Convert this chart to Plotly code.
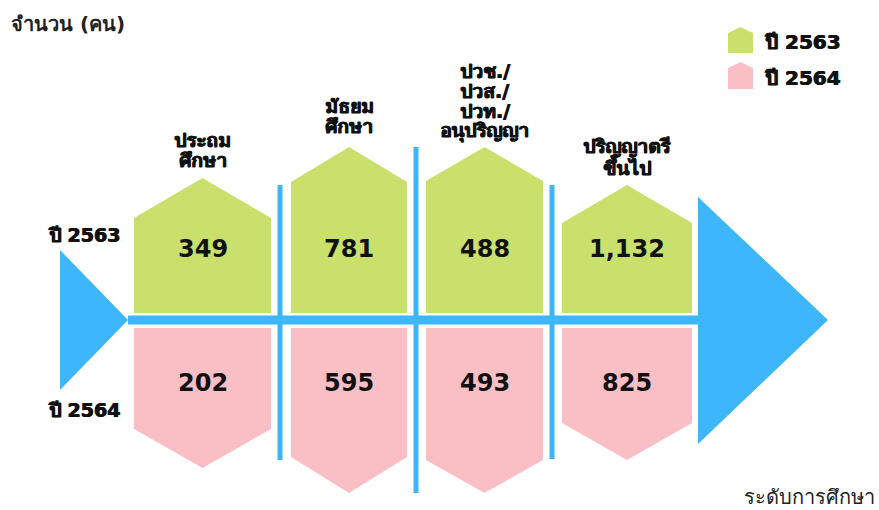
import plotly.graph_objects as go

# ---------------- data ----------------
categories = ["ประถม<br>ศึกษา", "มัธยม<br>ศึกษา",
              "ปวช./<br>ปวส./<br>ปวท./<br>อนุปริญญา", "ปริญญาตรี<br>ขึ้นไป"]
series_names = ["ปี 2563", "ปี 2564"]
values_2563 = [349, 781, 488, 1132]
values_2564 = [202, 595, 493, 825]
y_title = "จำนวน (คน)"
x_title = "ระดับการศึกษา"

# ---------------- layout / style constants (schematic infographic geometry) ----------------
W, H = 879, 510
GREEN = "#C9E16C"
PINK = "#FABFC5"
BLUE = "#3EB6FC"
FONT = "DejaVu Sans, Noto Sans, sans-serif"
TXT = "#111111"
THICK = "0.5px 0 0 #111111, -0.5px 0 0 #111111"

col_left = [134, 291, 426, 562]
col_right = [271, 407, 543, 692]
green_shoulder = [218, 182, 181, 223]
green_apex = [178, 147, 147, 185]
pink_shoulder = [429, 457, 460, 423]
pink_apex = [468, 493, 493, 460]
green_base, pink_base = 313, 328
spine_y = 320
green_val_y, pink_val_y = 249, 383
label_center_y = [150, 116, 101, 156]
label_line_gap = 20
sep_x = [280, 416, 552]
sep_top = [185, 147, 185]
sep_bottom = [460, 493, 459]
tail = dict(x0=60, x1=128, top=250, bottom=390)
head = dict(x0=698, x1=828, top=197, bottom=444)

fig = go.Figure()

def house(xl, xr, base, shoulder, apex):
    xc = (xl + xr) / 2
    return [xl, xl, xc, xr, xr, xl], [base, shoulder, apex, shoulder, base, base]

# houses
for i, cat in enumerate(categories):
    xs, ys = house(col_left[i], col_right[i], green_base, green_shoulder[i], green_apex[i])
    fig.add_trace(go.Scatter(x=xs, y=ys, fill="toself", fillcolor=GREEN, mode="lines",
                             line=dict(width=0, color=GREEN), name=series_names[0],
                             showlegend=False, hoverinfo="skip"))
    xs, ys = house(col_left[i], col_right[i], pink_base, pink_shoulder[i], pink_apex[i])
    fig.add_trace(go.Scatter(x=xs, y=ys, fill="toself", fillcolor=PINK, mode="lines",
                             line=dict(width=0, color=PINK), name=series_names[1],
                             showlegend=False, hoverinfo="skip"))

# fish-bone spine, tail and head
fig.add_shape(type="line", x0=tail["x1"], x1=head["x0"], y0=spine_y, y1=spine_y,
              line=dict(color=BLUE, width=9), layer="above")
fig.add_trace(go.Scatter(x=[tail["x0"], tail["x0"], tail["x1"], tail["x0"]],
                         y=[tail["top"], tail["bottom"], spine_y, tail["top"]],
                         fill="toself", fillcolor=BLUE, mode="lines",
                         line=dict(width=0, color=BLUE), showlegend=False, hoverinfo="skip"))
fig.add_trace(go.Scatter(x=[head["x0"], head["x0"], head["x1"], head["x0"]],
                         y=[head["top"], head["bottom"], spine_y, head["top"]],
                         fill="toself", fillcolor=BLUE, mode="lines",
                         line=dict(width=0, color=BLUE), showlegend=False, hoverinfo="skip"))
for x, t, b in zip(sep_x, sep_top, sep_bottom):
    fig.add_shape(type="line", x0=x, x1=x, y0=t, y1=b, line=dict(color=BLUE, width=5))

# values
for i in range(len(categories)):
    xc = (col_left[i] + col_right[i]) / 2
    fig.add_annotation(x=xc, y=green_val_y, text=f"{values_2563[i]:,}", showarrow=False,
                       font=dict(family=FONT, size=24, color=TXT, weight="bold"))
    fig.add_annotation(x=xc, y=pink_val_y, text=f"{values_2564[i]:,}", showarrow=False,
                       font=dict(family=FONT, size=24, color=TXT, weight="bold"))
    lines = categories[i].split("<br>")
    n = len(lines)
    for k, ln in enumerate(lines):
        y = label_center_y[i] + (k - (n - 1) / 2) * label_line_gap
        fig.add_annotation(x=xc, y=y, text=ln, showarrow=False,
                           font=dict(family=FONT, size=19, color=TXT, weight="bold",
                                     shadow=THICK))

# row labels
fig.add_annotation(x=84, y=235, text=series_names[0], showarrow=False,
                   font=dict(family=FONT, size=19, color=TXT, weight="bold", shadow=THICK))
fig.add_annotation(x=84, y=410, text=series_names[1], showarrow=False,
                   font=dict(family=FONT, size=19, color=TXT, weight="bold", shadow=THICK))

# legend (manual, house icons)
leg = [(GREEN, 27, 33, 53, 42, series_names[0]), (PINK, 62, 68, 89, 78, series_names[1])]
for col, apex, sh, base, ty, nm in leg:
    xs, ys = house(728, 753, base, sh, apex)
    fig.add_trace(go.Scatter(x=xs, y=ys, fill="toself", fillcolor=col, mode="lines",
                             line=dict(width=0, color=col), showlegend=False, hoverinfo="skip"))
    fig.add_annotation(x=762, y=ty, text=nm, showarrow=False, xanchor="left",
                       font=dict(family=FONT, size=20, color=TXT, weight="bold", shadow=THICK))

# axis titles
fig.add_annotation(x=9, y=24, text=y_title, showarrow=False, xanchor="left",
                   font=dict(family=FONT, size=20, color="#222222", weight="bold"))
fig.add_annotation(x=877, y=497, text=x_title, showarrow=False, xanchor="right",
                   font=dict(family=FONT, size=20, color="#222222"))

fig.update_layout(width=W, height=H, margin=dict(l=0, r=0, t=0, b=0),
                  plot_bgcolor="white", paper_bgcolor="white", showlegend=False,
                  xaxis=dict(range=[0, W], visible=False, fixedrange=True),
                  yaxis=dict(range=[H, 0], visible=False, fixedrange=True))
fig.write_html("out.html", config={"displayModeBar": False},
               post_script="document.body.style.margin='0px';")
